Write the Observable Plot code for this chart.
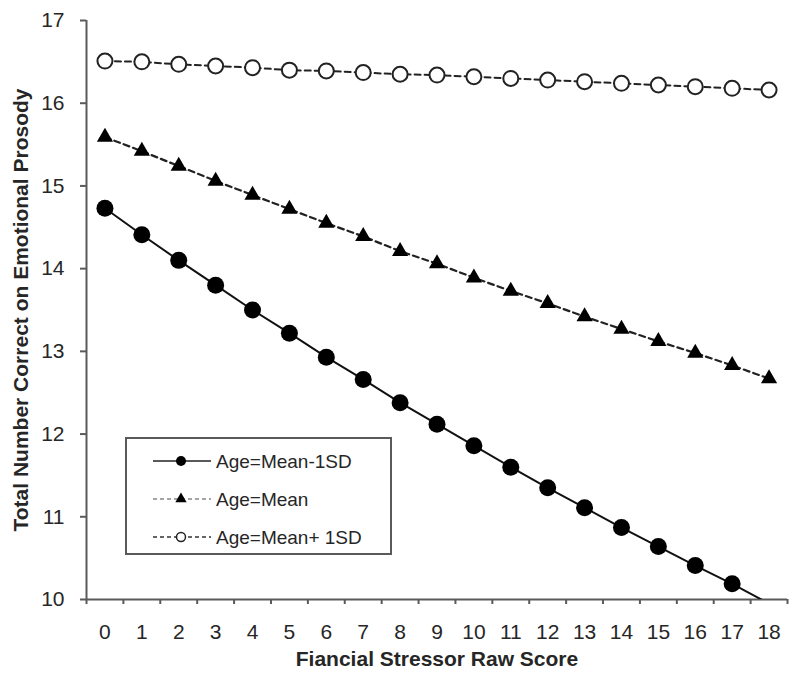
<!DOCTYPE html>
<html>
<head>
<meta charset="utf-8">
<script src="https://cdn.jsdelivr.net/npm/d3@7"></script>
<script src="https://cdn.jsdelivr.net/npm/@observablehq/plot@0.6"></script>
<style>
  html, body { margin: 0; padding: 0; background: #fff; }
  #chart svg { display: block; }
</style>
</head>
<body>
<div id="chart"></div>
<script>
// ---- Data ----
const scores = [0, 1, 2, 3, 4, 5, 6, 7, 8, 9, 10, 11, 12, 13, 14, 15, 16, 17, 18];
const seriesNames = ["Age=Mean-1SD", "Age=Mean", "Age=Mean+ 1SD"];
const ageLow  = [14.73, 14.41, 14.10, 13.80, 13.50, 13.22, 12.93, 12.66, 12.38, 12.12, 11.86, 11.60, 11.35, 11.11, 10.87, 10.64, 10.41, 10.19, 9.95];
const ageMean = [15.59, 15.42, 15.24, 15.06, 14.89, 14.72, 14.55, 14.39, 14.21, 14.06, 13.89, 13.73, 13.58, 13.42, 13.27, 13.12, 12.98, 12.83, 12.67];
const ageHigh = [16.51, 16.50, 16.47, 16.45, 16.43, 16.40, 16.39, 16.37, 16.35, 16.34, 16.32, 16.30, 16.28, 16.26, 16.24, 16.22, 16.20, 16.18, 16.16];
const yTicks = [10, 11, 12, 13, 14, 15, 16, 17];
const xTitle = "Fiancial Stressor Raw Score";
const yTitle = "Total Number Correct on Emotional Prosody";

// tables built from the arrays
const toRows = (vals) => scores.map((s, i) => ({score: s, value: vals[i]}));
const low = toRows(ageLow), mid = toRows(ageMean), high = toRows(ageHigh);
const boundaries = scores.map(s => s - 0.5).concat([scores[scores.length - 1] + 0.5]);

const axisColor = "#5a5a5a";
const textColor = "#262626";
const fontFam = "'Liberation Sans', Arial, sans-serif";

const chart = Plot.plot({
  width: 800,
  height: 686,
  marginLeft: 86,
  marginRight: 13,
  marginTop: 20,
  marginBottom: 87,
  style: {fontFamily: fontFam, color: textColor, background: "#fff"},
  x: {domain: [-0.5, 18.5]},
  y: {domain: [10, 17]},
  marks: [
    // axis lines
    Plot.ruleY([10], {stroke: axisColor, strokeWidth: 2}),
    Plot.ruleX([-0.5], {stroke: axisColor, strokeWidth: 2}),
    // y axis ticks + labels
    Plot.axisY(yTicks, {tickSize: 6, tickPadding: 16, fontSize: 21, tickFormat: d => String(d), stroke: axisColor, strokeWidth: 2, fill: textColor, label: null}),
    // x boundary ticks
    Plot.axisX(boundaries, {tickSize: 5, tickFormat: () => "", stroke: axisColor, strokeWidth: 2, label: null}),
    // x category labels
    Plot.axisX(scores, {tickSize: 0, tickPadding: 25, fontSize: 21, tickFormat: d => String(d), fill: textColor, label: null}),
    // titles
    Plot.text([xTitle], {frameAnchor: "bottom", dy: 66, fontSize: 21, fontWeight: "bold", fill: textColor, textAnchor: "middle"}),
    Plot.text([yTitle], {frameAnchor: "left", dx: -65, rotate: -90, fontSize: 21, fontWeight: "bold", fill: textColor, textAnchor: "middle"}),
    // Age = Mean + 1SD
    Plot.line(high, {x: "score", y: "value", stroke: "#222", strokeWidth: 2, strokeDasharray: "6,4", clip: true}),
    Plot.dot(high, {x: "score", y: "value", r: 7.5, fill: "#fff", stroke: "#222", strokeWidth: 2, clip: true}),
    // Age = Mean
    Plot.line(mid, {x: "score", y: "value", stroke: "#222", strokeWidth: 2.2, strokeDasharray: "6,4", clip: true}),
    Plot.dot(mid, {x: "score", y: "value", symbol: "triangle", r: 6, fill: "#000", stroke: "none", clip: true}),
    // Age = Mean - 1SD
    Plot.line(low, {x: "score", y: "value", stroke: "#111", strokeWidth: 2, clip: true}),
    Plot.dot(low, {x: "score", y: "value", r: 8.5, fill: "#000", stroke: "none", clip: true, filter: d => d.value >= 10})
  ]
});

document.getElementById("chart").appendChild(chart);

// ---- Legend box drawn inside the plot area ----
const svg = d3.select(chart);
const lg = svg.append("g").attr("font-family", fontFam).attr("text-anchor", "start");
lg.append("rect").attr("x", 126).attr("y", 438).attr("width", 265).attr("height", 116)
  .attr("fill", "#fff").attr("stroke", axisColor).attr("stroke-width", 2);
const rowsY = [461, 499, 537];
const styles = [
  {dash: null, stroke: "#222"},
  {dash: "4,3", stroke: "#888"},
  {dash: "4,3", stroke: "#333"}
];
seriesNames.forEach((name, i) => {
  const y = rowsY[i];
  const ln = lg.append("line").attr("x1", 153).attr("x2", 211).attr("y1", y).attr("y2", y)
    .attr("stroke", styles[i].stroke).attr("stroke-width", 1.5);
  if (styles[i].dash) ln.attr("stroke-dasharray", styles[i].dash);
  if (i === 0) {
    lg.append("circle").attr("cx", 181).attr("cy", y).attr("r", 5).attr("fill", "#000");
  } else if (i === 1) {
    lg.append("path").attr("d", d3.symbol(d3.symbolTriangle, 55)()).attr("transform", `translate(181,${y})`).attr("fill", "#000");
  } else {
    lg.append("circle").attr("cx", 181).attr("cy", y).attr("r", 4.5).attr("fill", "#fff").attr("stroke", "#222").attr("stroke-width", 1.5);
  }
  lg.append("text").attr("x", 216).attr("y", y).attr("dy", "0.35em").attr("text-anchor", "start")
    .attr("font-size", 19).attr("fill", textColor).text(name);
});
</script>
</body>
</html>
